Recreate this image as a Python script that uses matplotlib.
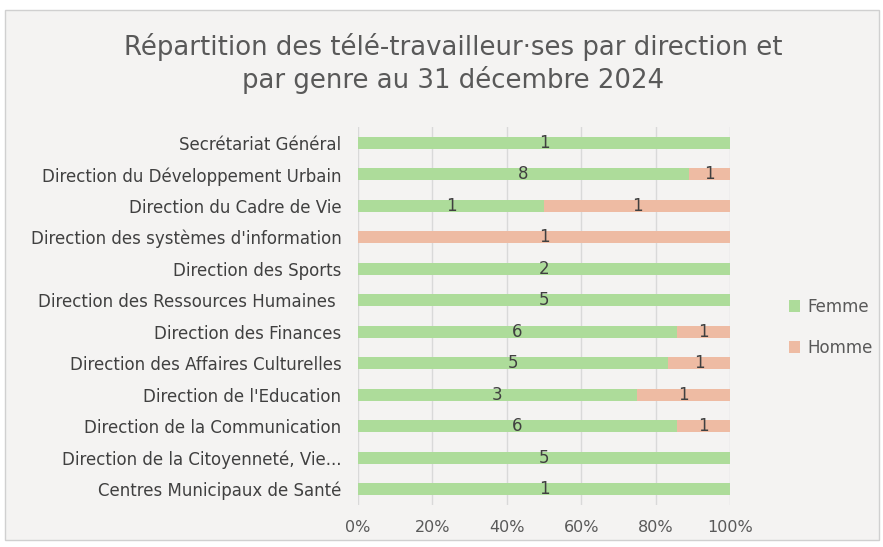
import numpy as np
import matplotlib.pyplot as plt
from matplotlib.patches import Rectangle

categories = ["Secrétariat Général", "Direction du Développement Urbain",
              "Direction du Cadre de Vie", "Direction des systèmes d'information",
              "Direction des Sports", "Direction des Ressources Humaines ",
              "Direction des Finances", "Direction des Affaires Culturelles",
              "Direction de l'Education", "Direction de la Communication",
              "Direction de la Citoyenneté, Vie...", "Centres Municipaux de Santé"]
femme = [1, 8, 1, 0, 2, 5, 6, 5, 3, 6, 5, 1]
homme = [0, 1, 1, 1, 0, 0, 1, 1, 1, 1, 0, 0]

green = '#ADDC9A'
salmon = '#EEBBA3'
txt = '#404040'

fig = plt.figure(figsize=(8.83, 5.47), dpi=100)
fig.patch.set_facecolor('white')
fig.patches.append(Rectangle((5/883, 1-540/547), 874/883, 530/547, transform=fig.transFigure,
                             facecolor='#F4F3F2', edgecolor='#D0D0D0', lw=1, zorder=-5))

ax = fig.add_axes([358/883, 1-505/547, 372/883, 378/547])
ax.set_facecolor('none')

f = np.array(femme, float)
h = np.array(homme, float)
tot = f + h
fp = f / tot
hp = h / tot
y = np.arange(len(categories))[::-1]

ax.barh(y, fp, height=0.38, color=green, label='Femme', zorder=2)
ax.barh(y, hp, left=fp, height=0.38, color=salmon, label='Homme', zorder=2)

for i in range(len(categories)):
    if f[i] > 0:
        ax.text(fp[i]/2, y[i], str(femme[i]), ha='center', va='center', fontsize=12, color=txt, zorder=3)
    if h[i] > 0:
        ax.text(fp[i] + hp[i]/2, y[i], str(homme[i]), ha='center', va='center', fontsize=12, color=txt, zorder=3)

ax.set_xlim(0, 1)
ax.set_ylim(-0.5, len(categories) - 0.5)
ax.set_xticks(np.arange(0, 1.01, 0.2))
ax.set_xticklabels([f"{int(v*100)}%" for v in np.arange(0, 1.01, 0.2)], fontsize=11.5, color='#595959')
ax.set_yticks(y)
ax.set_yticklabels(categories, fontsize=12, color=txt)
ax.tick_params(length=0, pad=12)
ax.tick_params(axis='x', pad=11)
ax.grid(axis='x', color='#D9D9D9', lw=1, zorder=1)
for s in ax.spines.values():
    s.set_visible(False)

ax.legend(loc='center left', bbox_to_anchor=(1.14, 0.47), frameon=False, fontsize=12, borderaxespad=0,
          labelcolor='#595959', handlelength=0.7, handleheight=0.7, labelspacing=1.4, handletextpad=0.4)

fig.text(453/883, 1-47/547, "Répartition des télé-travailleur·ses par direction et",
         ha='center', va='center', fontsize=18.7, color='#595959')
fig.text(453/883, 1-80/547, "par genre au 31 décembre 2024",
         ha='center', va='center', fontsize=18.7, color='#595959')

fig.savefig('out.png', dpi=100)
